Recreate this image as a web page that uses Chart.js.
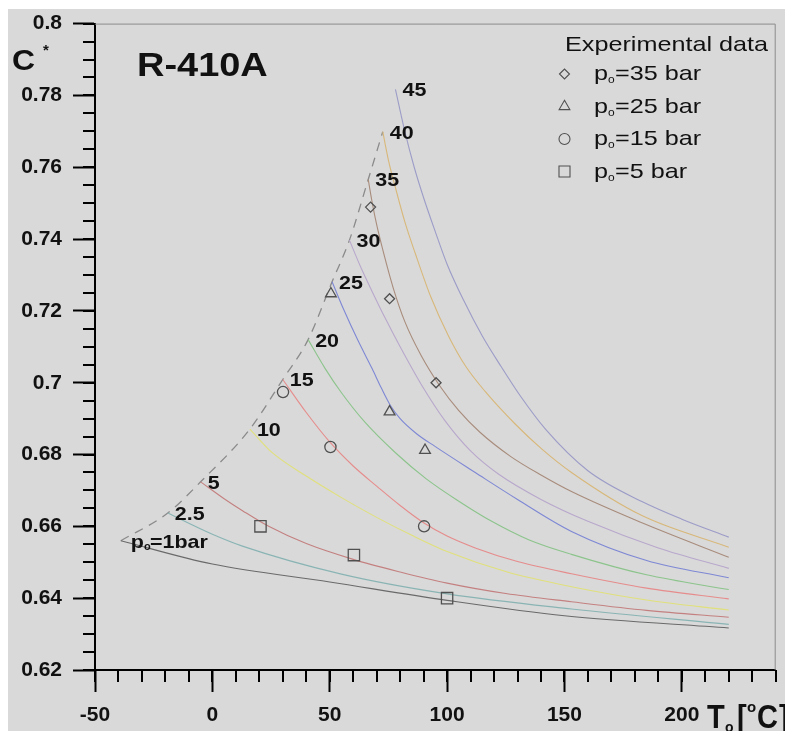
<!DOCTYPE html>
<html><head><meta charset="utf-8">
<script src="https://cdn.jsdelivr.net/npm/chart.js@4"></script>
<style>html,body{margin:0;padding:0;background:#fff;}canvas{display:block}</style>
</head><body>
<canvas id="c" width="785" height="731" style="width:785px;height:731px"></canvas>
<script>
// ---------- data ----------
const curveNames = ['1', '2.5', '5', '10', '15', '20', '25', '30', '35', '40', '45'];
const T_p1   = [-39, 0, 50, 100, 150, 220];
const C_p1   = [0.656, 0.6495, 0.6445, 0.6394, 0.6351, 0.6317];
const T_p2_5 = [-19, 0, 12.8, 55, 100, 153, 220];
const C_p2_5 = [0.6637, 0.6578, 0.6545, 0.6467, 0.6412, 0.637, 0.6327];
const T_p5   = [-5, 5, 13, 24, 40, 60, 80, 100, 125, 153, 185, 220];
const C_p5   = [0.6724, 0.6677, 0.6643, 0.66, 0.6552, 0.6508, 0.6473, 0.6442, 0.6413, 0.639, 0.6366, 0.6347];
const T_p10  = [16, 25, 40, 55, 70, 85, 100, 126, 153, 185, 220];
const C_p10  = [0.6871, 0.6808, 0.674, 0.668, 0.6625, 0.6575, 0.653, 0.6472, 0.6432, 0.6395, 0.6367];
const T_p15  = [30, 40, 50, 60, 70, 80, 90, 100, 112, 130, 153, 185, 220];
const C_p15  = [0.7009, 0.6917, 0.6835, 0.6768, 0.6712, 0.6658, 0.661, 0.6573, 0.654, 0.6502, 0.6468, 0.6428, 0.6398];
const T_p20  = [40.8, 48, 55, 65, 78, 91, 105, 119, 135, 153, 185, 220];
const C_p20  = [0.712, 0.704, 0.6972, 0.689, 0.6805, 0.6733, 0.667, 0.6614, 0.6562, 0.6522, 0.6465, 0.6424];
const T_p25  = [51, 56, 62, 68, 72, 76, 80, 87, 95, 112, 130, 153, 185, 220];
const C_p25  = [0.7281, 0.7203, 0.7118, 0.704, 0.6985, 0.6935, 0.69, 0.6858, 0.6822, 0.675, 0.6675, 0.6586, 0.6505, 0.6457];
const T_p30  = [58.4, 63, 68, 74, 80, 89, 99, 110, 122, 140, 160, 190, 220];
const C_p30  = [0.7397, 0.7325, 0.7255, 0.7175, 0.71, 0.6995, 0.6895, 0.681, 0.6745, 0.6675, 0.6614, 0.654, 0.6483];
const T_p35  = [66.4, 68, 70, 73, 77, 82, 89, 97, 105, 114, 127, 140, 153, 183, 220];
const C_p35  = [0.7566, 0.7505, 0.744, 0.736, 0.7265, 0.717, 0.7075, 0.699, 0.6922, 0.6862, 0.6795, 0.6743, 0.6697, 0.661, 0.6514];
const T_p40  = [72.6, 75, 78, 82, 86.5, 93, 100.7, 108, 116.3, 129, 140.4, 153, 183, 220];
const C_p40  = [0.7699, 0.762, 0.7543, 0.7448, 0.7359, 0.724, 0.7129, 0.7045, 0.6975, 0.6885, 0.6815, 0.675, 0.663, 0.6542];
const T_p45  = [78, 82, 86, 90, 95, 100, 107, 115, 123, 131, 142, 160, 183, 200, 220];
const C_p45  = [0.7817, 0.77, 0.76, 0.7515, 0.742, 0.733, 0.723, 0.713, 0.7045, 0.6965, 0.687, 0.6755, 0.6669, 0.662, 0.657];

const expLabels = ['35', '25', '15', '5'];
const exp35T = [67.4, 75.5, 95.3];  const exp35C = [0.7489, 0.7234, 0.700];
const exp25T = [50.5, 75.5, 90.6];  const exp25C = [0.7248, 0.6919, 0.6812];
const exp15T = [30.1, 50.3, 90.2];  const exp15C = [0.6974, 0.6821, 0.660];
const exp5T  = [20.5, 60.3, 100.0]; const exp5C  = [0.660, 0.652, 0.640];

const xTickLabels = ['-50', '0', '50', '100', '150', '200'];
const yTickLabels = ['0.62', '0.64', '0.66', '0.68', '0.7', '0.72', '0.74', '0.76', '0.78', '0.8'];

// ---------- styles ----------
const curveT = [T_p1, T_p2_5, T_p5, T_p10, T_p15, T_p20, T_p25, T_p30, T_p35, T_p40, T_p45];
const curveC = [C_p1, C_p2_5, C_p5, C_p10, C_p15, C_p20, C_p25, C_p30, C_p35, C_p40, C_p45];
const curveColors = ['#6a6a6a', '#8ab4b4', '#c48080', '#e0e07c', '#e68c8c', '#8cc48c', '#7e88d4',
                     '#b8a8cc', '#a88c7c', '#d8b87a', '#9c9cc8'];
const FONT = '"Liberation Sans", Arial, Helvetica, sans-serif';
const zip = (xs, ys) => xs.map((x, i) => ({x: x, y: ys[i]}));

const datasets = [];
const expT = [exp35T, exp25T, exp15T, exp5T];
const expC = [exp35C, exp25C, exp15C, exp5C];
const expStyle = ['rectRot', 'triangle', 'circle', 'rect'];
const expRadius = [5, 6.2, 5.6, 8];
expT.forEach((t, i) => {
  datasets.push({
    label: 'p=' + expLabels[i] + ' bar', data: zip(t, expC[i]), showLine: false,
    pointStyle: expStyle[i], pointRadius: expRadius[i], pointBorderColor: '#505050',
    pointBackgroundColor: 'rgba(0,0,0,0)', pointBorderWidth: 1.3, order: 0
  });
});
curveT.forEach((t, i) => {
  datasets.push({
    label: curveNames[i], data: zip(t, curveC[i]), showLine: true, pointRadius: 0,
    borderColor: curveColors[i], borderWidth: 1.1, cubicInterpolationMode: 'monotone',
    fill: false, order: 1
  });
});
// saturation boundary through curve start points
const sat = curveT.slice(0, 10).map((t, i) => ({x: t[0], y: curveC[i][0]}));
datasets.push({
  label: 'sat', data: sat, showLine: true, pointRadius: 0, borderColor: '#8a8a8a',
  borderWidth: 1.3, borderDash: [9, 7], cubicInterpolationMode: 'monotone', order: 1
});

function txt(ctx, s, x, y, font, sx) {
  ctx.save(); ctx.font = font; ctx.textAlign = 'left'; ctx.textBaseline = 'alphabetic';
  ctx.translate(x, y); ctx.scale(sx, 1); ctx.fillText(s, 0, 0);
  const w = ctx.measureText(s).width * sx; ctx.restore(); return w;
}
function marker(ctx, style, x, y, lw) {
  ctx.save(); ctx.strokeStyle = '#505050'; ctx.lineWidth = lw; ctx.beginPath();
  if (style === 'rectRot') { ctx.moveTo(x - 5, y); ctx.lineTo(x, y - 5); ctx.lineTo(x + 5, y); ctx.lineTo(x, y + 5); ctx.closePath(); }
  else if (style === 'triangle') { const r = 6.2; ctx.moveTo(x, y - r); ctx.lineTo(x + r * 0.866, y + r / 2); ctx.lineTo(x - r * 0.866, y + r / 2); ctx.closePath(); }
  else if (style === 'circle') { ctx.arc(x, y, 5.5, 0, Math.PI * 2); }
  else { ctx.rect(x - 5.5, y - 5.5, 11, 11); }
  ctx.stroke(); ctx.restore();
}

const figPlugin = {
  id: 'fig',
  beforeDraw(chart) {
    const ctx = chart.ctx;
    ctx.save();
    ctx.fillStyle = '#ffffff'; ctx.fillRect(0, 0, chart.width, chart.height);
    ctx.fillStyle = '#d9d9d9'; ctx.fillRect(8, 9, chart.width - 8, chart.height - 9);
    ctx.restore();
  },
  afterDraw(chart) {
    const ctx = chart.ctx, xs = chart.scales.x, ys = chart.scales.y, a = chart.chartArea;
    ctx.save();
    // frame top/right
    ctx.strokeStyle = '#8c8c8c'; ctx.lineWidth = 1;
    ctx.beginPath(); ctx.moveTo(a.left, a.top + 0.5); ctx.lineTo(a.right - 0.5, a.top + 0.5); ctx.lineTo(a.right - 0.5, a.bottom); ctx.stroke();
    // minor ticks
    ctx.strokeStyle = '#000'; ctx.lineWidth = 2;
    ctx.beginPath();
    for (let v = xs.min; v <= xs.max + 1e-6; v += 10) {
      const p = Math.round(xs.getPixelForValue(v));
      ctx.moveTo(p, a.bottom); ctx.lineTo(p, a.bottom + 12);
    }
    for (let k = 0; ; k++) {
      const v = ys.min + k * 0.005; if (v > ys.max + 1e-9) break;
      const p = Math.round(ys.getPixelForValue(v));
      ctx.moveTo(a.left, p); ctx.lineTo(a.left - 12, p);
    }
    ctx.stroke();
    ctx.fillStyle = '#111';
    // curve labels at curve starts
    const lf = 'bold 19px ' + FONT;
    curveT.forEach((t, i) => {
      const px = xs.getPixelForValue(t[0]) + 7, py = ys.getPixelForValue(curveC[i][0]) + 7;
      if (i === 0) {
        let w = txt(ctx, 'p', px + 3, py, lf, 1.13);
        txt(ctx, 'o', px + 3 + w, py + 2, 'bold 10px ' + FONT, 1.1);
        txt(ctx, '=' + curveNames[0] + 'bar', px + 3 + w + 6, py, lf, 1.13);
      } else {
        txt(ctx, curveNames[i], px, py, lf, 1.13);
      }
    });
    // title
    txt(ctx, 'R-410A', 137, 76, 'bold 33px ' + FONT, 1.15);
    // y axis title
    txt(ctx, 'C', 12, 70, 'bold 29px ' + FONT, 1.1);
    txt(ctx, '*', 43, 55, 'bold 15px ' + FONT, 1.0);
    // x axis title
    const tf = 'bold 33px ' + FONT;
    txt(ctx, 'T', 707, 728, tf, 0.88);
    txt(ctx, 'o', 725, 732, 'bold 14px ' + FONT, 1.0);
    txt(ctx, '[', 737, 728, tf, 0.88);
    txt(ctx, 'o', 747, 712, 'bold 15px ' + FONT, 1.0);
    txt(ctx, 'C', 757, 728, tf, 0.88);
    txt(ctx, ']', 779, 728, tf, 0.88);
    // legend
    const gf = '21px ' + FONT;
    txt(ctx, 'Experimental data', 565, 50.5, gf, 1.2);
    const rows = [80, 112.5, 145, 177.5];
    expLabels.forEach((lab, i) => {
      marker(ctx, expStyle[i], 564.5, rows[i] - 6, 1.1);
      const w = txt(ctx, 'p', 594, rows[i], gf, 1.2);
      txt(ctx, 'o', 594 + w, rows[i] + 3, '10px ' + FONT, 1.2);
      txt(ctx, '=' + lab + ' bar', 594 + w + 7, rows[i], gf, 1.2);
    });
    ctx.restore();
  }
};

new Chart(document.getElementById('c'), {
  type: 'scatter',
  data: {datasets: datasets},
  plugins: [figPlugin],
  options: {
    responsive: false, animation: false, events: [],
    layout: {padding: {top: 17, right: 9, left: 0, bottom: 0}},
    plugins: {legend: {display: false}, tooltip: {enabled: false}},
    scales: {
      x: {
        type: 'linear', min: -50, max: 240,
        border: {display: true, color: '#000', width: 2},
        grid: {drawOnChartArea: false, drawTicks: true, tickLength: 22, tickWidth: 2, tickColor: '#000'},
        ticks: {stepSize: 50, includeBounds: false, autoSkip: false, maxRotation: 0, padding: 11,
          color: '#111', font: {family: FONT, weight: 'bold', size: 21},
          callback: v => xTickLabels.includes(String(v)) ? String(v) : ''},
        afterFit: s => { s.height = 61; }
      },
      y: {
        type: 'linear', min: 0.62, max: 0.8,
        border: {display: true, color: '#000', width: 2},
        grid: {drawOnChartArea: false, drawTicks: true, tickLength: 22, tickWidth: 2, tickColor: '#000'},
        ticks: {stepSize: 0.02, includeBounds: false, autoSkip: false, padding: 11,
          color: '#111', font: {family: FONT, weight: 'bold', size: 21},
          callback: v => { const s = String(Math.round(v * 100) / 100); return yTickLabels.includes(s) ? s : ''; }},
        afterFit: s => { s.width = 95; }
      }
    }
  }
});
</script>
</body></html>
